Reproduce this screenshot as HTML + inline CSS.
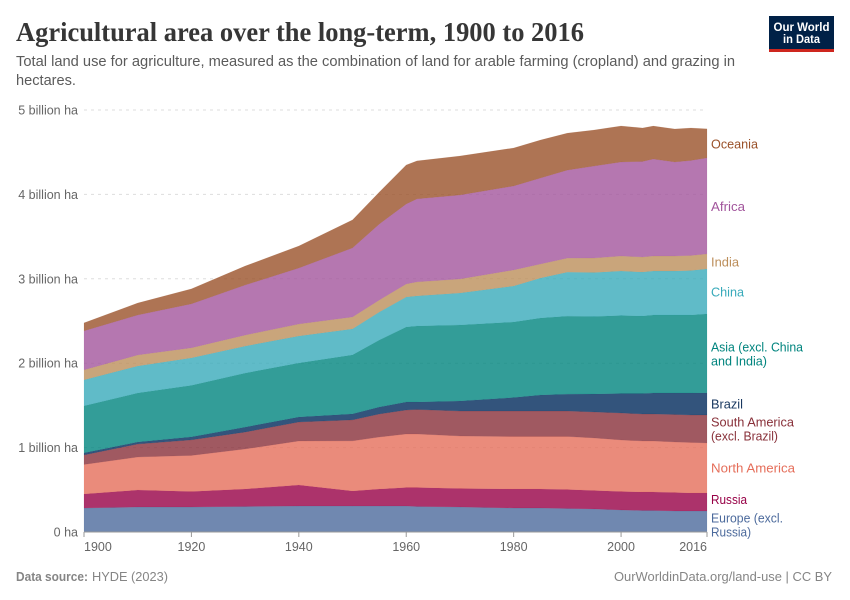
<!DOCTYPE html>
<html lang="en">
<head>
<meta charset="utf-8">
<title>Agricultural area over the long-term, 1900 to 2016</title>
<style>
  html, body { margin: 0; padding: 0; background: #fff; }
  svg { display: block; font-family: "Liberation Sans", sans-serif; }
</style>
</head>
<body>
<svg id="chart" xmlns="http://www.w3.org/2000/svg" width="850" height="600" viewBox="0 0 850 600">
  <rect x="0" y="0" width="850" height="600" fill="#ffffff"/>
  <text x="16" y="41" font-family="'Liberation Serif', serif" font-weight="700" font-size="27" fill="#363636" textLength="568" lengthAdjust="spacingAndGlyphs">Agricultural area over the long-term, 1900 to 2016</text>
  <text x="16" y="66" font-size="14.5" fill="#5b5b5b" textLength="719" lengthAdjust="spacingAndGlyphs">Total land use for agriculture, measured as the combination of land for arable farming (cropland) and grazing in</text>
  <text x="16" y="85" font-size="14.5" fill="#5b5b5b" textLength="60" lengthAdjust="spacingAndGlyphs">hectares.</text>

  <g>
    <rect x="769" y="16" width="65" height="33" fill="#002147"/>
    <rect x="769" y="49" width="65" height="3" fill="#ce261e"/>
    <text x="801.5" y="31" text-anchor="middle" font-size="11.5" font-weight="700" fill="#ffffff" textLength="56" lengthAdjust="spacingAndGlyphs">Our World</text>
    <text x="801.5" y="43" text-anchor="middle" font-size="11.5" font-weight="700" fill="#ffffff" textLength="37" lengthAdjust="spacingAndGlyphs">in Data</text>
  </g>

  <g id="grid"></g>
  <g id="areas"></g>
  <g id="axes"></g>

  <g font-size="12.5">
    <text x="711" y="148.5" fill="#9a5129" textLength="47" lengthAdjust="spacingAndGlyphs">Oceania</text>
    <text x="711" y="211" fill="#a2559c" textLength="34" lengthAdjust="spacingAndGlyphs">Africa</text>
    <text x="711" y="266.5" fill="#bc8e5a" textLength="28" lengthAdjust="spacingAndGlyphs">India</text>
    <text x="711" y="296.5" fill="#38aaba" textLength="33" lengthAdjust="spacingAndGlyphs">China</text>
    <text x="711" y="351.5" fill="#00847e" textLength="92" lengthAdjust="spacingAndGlyphs">Asia (excl. China</text>
    <text x="711" y="365.5" fill="#00847e" textLength="56" lengthAdjust="spacingAndGlyphs">and India)</text>
    <text x="711" y="408.5" fill="#18375f" textLength="32" lengthAdjust="spacingAndGlyphs">Brazil</text>
    <text x="711" y="426.5" fill="#883039" textLength="83" lengthAdjust="spacingAndGlyphs">South America</text>
    <text x="711" y="440.5" fill="#883039" textLength="67" lengthAdjust="spacingAndGlyphs">(excl. Brazil)</text>
    <text x="711" y="472.5" fill="#e56e5a" textLength="84" lengthAdjust="spacingAndGlyphs">North America</text>
    <text x="711" y="504" fill="#970046" textLength="36" lengthAdjust="spacingAndGlyphs">Russia</text>
    <text x="711" y="522.5" fill="#4c6a9c" textLength="72" lengthAdjust="spacingAndGlyphs">Europe (excl.</text>
    <text x="711" y="536.5" fill="#4c6a9c" textLength="40" lengthAdjust="spacingAndGlyphs">Russia)</text>
  </g>

  <text x="16" y="581" font-size="12.5" font-weight="700" fill="#858585" textLength="72" lengthAdjust="spacingAndGlyphs">Data source:</text>
  <text x="92" y="581" font-size="12.5" fill="#858585" textLength="76" lengthAdjust="spacingAndGlyphs">HYDE (2023)</text>
  <text x="614" y="581" font-size="12.5" fill="#858585" textLength="218" lengthAdjust="spacingAndGlyphs">OurWorldinData.org/land-use | CC BY</text>
</svg>

<script>
// Values in million hectares.
const years = [1900,1910,1920,1930,1940,1950,1955,1960,1962,1970,1980,1985,1990,1995,2000,2004,2006,2010,2013,2016];
const europe = [284,296,296,302,308,308,308,308,302,296,284,284,278,273,261,255,255,249,249,249];
const russia = [166,201,184,207,249,178,201,219,225,219,225,225,225,219,219,219,219,219,213,213];
const northAmerica = [350,391,427,474,521,593,616,634,634,622,622,622,628,622,610,604,604,598,598,593];
const southAmerica = [113,154,184,201,225,249,273,284,290,296,302,302,302,308,320,320,320,326,326,332];
const brazil = [24,24,36,59,59,71,83,95,89,119,160,190,201,213,231,243,249,255,261,261];
const asia = [557,581,610,640,640,699,794,889,901,901,895,912,924,918,924,918,924,924,924,936];
const china = [308,320,326,320,320,308,332,356,356,379,427,474,521,521,527,521,521,521,527,533];
const india = [119,130,119,130,142,142,142,154,166,166,190,166,166,172,178,178,178,178,178,178];
const africa = [462,474,521,593,664,818,901,948,984,995,995,1019,1043,1090,1114,1132,1149,1114,1126,1138];
const oceania = [95,142,178,225,261,332,379,462,450,462,450,450,438,427,427,397,391,391,385,344];

const seriesNames = ['europe','russia','north-america','south-america','brazil','asia','china','india','africa','oceania'];
const seriesValues = [europe,russia,northAmerica,southAmerica,brazil,asia,china,india,africa,oceania];
const seriesColors = ['#4c6a9c','#970046','#e56e5a','#883039','#00295b','#00847e','#38aaba','#bc8e5a','#a2559c','#9a5129'];

const yTicks = [0,1000,2000,3000,4000,5000];
const yTickLabels = ['0 ha','1 billion ha','2 billion ha','3 billion ha','4 billion ha','5 billion ha'];
const xTicks = [1900,1920,1940,1960,1980,2000,2016];

const NS = 'http://www.w3.org/2000/svg';
const plotLeft = 84, plotRight = 707, plotBottom = 532, plotTop = 110;
const xMin = 1900, xMax = 2016, yMax = 5000;

function xScale(year) {
  return plotLeft + (year - xMin) / (xMax - xMin) * (plotRight - plotLeft);
}
function yScale(value) {
  return plotBottom - value / yMax * (plotBottom - plotTop);
}
function make(tag, attrs) {
  const el = document.createElementNS(NS, tag);
  for (const k in attrs) el.setAttribute(k, attrs[k]);
  return el;
}

const gridGroup = document.getElementById('grid');
const areaGroup = document.getElementById('areas');
const axisGroup = document.getElementById('axes');

yTicks.forEach(function (tick, i) {
  if (tick > 0) {
    const line = make('line', {x1: plotLeft, x2: plotRight, y1: yScale(tick), y2: yScale(tick), stroke: '#dddddd', 'stroke-width': 1, 'stroke-dasharray': '3,4'});
    
    
    gridGroup.appendChild(line);
  }
  const label = make('text', {x: 78, y: yScale(tick) + 4.5, 'text-anchor': 'end', 'font-size': 12.5, fill: '#666666'});
  label.textContent = yTickLabels[i];
  
  
  axisGroup.appendChild(label);
});

const running = years.map(function () { return 0; });
seriesValues.forEach(function (values, s) {
  const lower = running.slice();
  values.forEach(function (v, i) { running[i] += v; });
  const top = years.map(function (y, i) { return xScale(y).toFixed(2) + ',' + yScale(running[i]).toFixed(2); });
  const bottom = years.map(function (y, i) { return xScale(y).toFixed(2) + ',' + yScale(lower[i]).toFixed(2); }).reverse();
  const area = make('path', {d: 'M' + top.join('L') + 'L' + bottom.join('L') + 'Z', fill: seriesColors[s], 'fill-opacity': 0.8, stroke: seriesColors[s], 'stroke-opacity': 0.2, 'stroke-width': 0.5});
  
  
  areaGroup.appendChild(area);
});

const axisLine = make('line', {x1: plotLeft, x2: plotRight, y1: plotBottom, y2: plotBottom, stroke: '#999999', 'stroke-width': 1});


axisGroup.appendChild(axisLine);

xTicks.forEach(function (tick, i) {
  const px = xScale(tick);
  const mark = make('line', {x1: px, x2: px, y1: plotBottom, y2: plotBottom + 5, stroke: '#999999', 'stroke-width': 1});
  
  
  axisGroup.appendChild(mark);
  const anchor = i === 0 ? 'start' : (i === xTicks.length - 1 ? 'end' : 'middle');
  const label = make('text', {x: px, y: 551, 'text-anchor': anchor, 'font-size': 12.5, fill: '#666666'});
  label.textContent = String(tick);
  
  
  axisGroup.appendChild(label);
});
</script>
</body>
</html>
